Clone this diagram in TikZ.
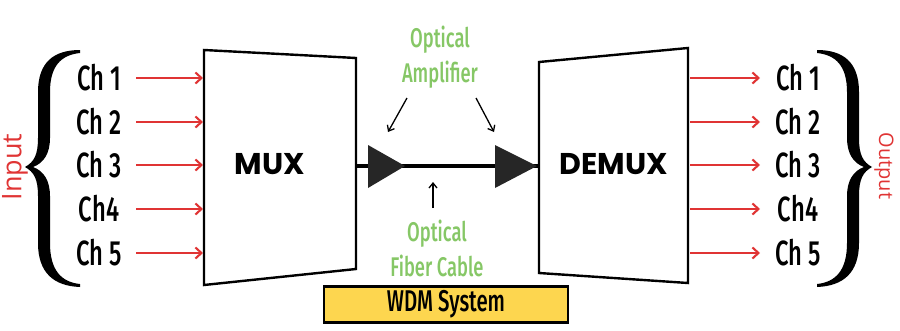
\documentclass[tikz,border=0pt]{standalone}
\usepackage{fontspec}
\setmainfont{Fira Sans Medium}[FakeStretch=0.68]
\newfontfamily\boldfnt{Poppins Bold}
\newfontfamily\plainfnt{Open Sans}
\usetikzlibrary{arrows.meta}
\definecolor{myred}{HTML}{E03434}
\definecolor{mygreen}{HTML}{86C766}
\definecolor{myyellow}{HTML}{FDD64F}
\tikzset{
  chlabel/.style={font=\fontsize{35}{35}\selectfont, text=black, inner sep=0pt},
  redarrow/.style={draw=myred, line width=2.1pt, -{Straight Barb[length=6pt,width=11pt,line width=2.1pt]}},
  greentext/.style={font=\fontsize{27}{35}\selectfont, text=mygreen, align=center, inner sep=0pt},
  blackarrow/.style={draw=black, line width=1.3pt, -{Straight Barb[length=5pt,width=8pt,line width=1.3pt]}},
  boxtitle/.style={font=\boldfnt\fontsize{30}{30}\selectfont, inner sep=0pt},
  trap/.style={draw=black, line width=2.4pt, fill=white, line join=miter},
  amp/.style={fill=black!85, draw=none},
  bigbrace/.pic={
    \fill[black] (80,50) .. controls (54,50) and (38,62) .. (38,92) -- (38,138)
      .. controls (38,155) and (34,162) .. (25,167)
      .. controls (34,172) and (38,179) .. (38,196) -- (38,243)
      .. controls (38,273) and (54,286) .. (80,287) -- (80,284)
      .. controls (61,282) and (50,270) .. (50,243) -- (50,196)
      .. controls (50,181) and (44,171) .. (33,167)
      .. controls (44,163) and (50,153) .. (50,138) -- (50,92)
      .. controls (50,66) and (61,55) .. (80,53) -- cycle;
  }
}
\begin{document}
\begin{tikzpicture}[x=1pt,y=-1pt]
\useasboundingbox (0,0) rectangle (900,330);
% fiber line
\coordinate (muxout) at (356,166);
\coordinate (demuxin) at (539,166);
\draw[line width=4pt] (muxout) -- (demuxin);
% amplifiers
\fill[amp] (368,145) -- (405,166) -- (368,188) -- cycle;
\fill[amp] (495,145) -- (537,166) -- (495,188) -- cycle;
\coordinate (amp1) at (388,132);
\coordinate (amp2) at (494,132);
% MUX and DEMUX
\draw[trap] (204,50) -- (356,58) -- (356,269) -- (204,285) -- cycle;
\draw[trap] (539,62) -- (688,48) -- (688,283) -- (539,273) -- cycle;
\node[boxtitle] (mux) at (270,164) {MUX};
\node[boxtitle] (demux) at (614,164) {DEMUX};
% input channels
\foreach \i/\t/\y in {1/Ch 1/78, 2/Ch 2/122, 3/Ch 3/165, 4/Ch4/209, 5/Ch 5/253}{
  \node[chlabel] (in\i) at (99,\y) {\t};
  \coordinate (mi\i) at (203,\y);
  \draw[redarrow] (136,\y) -- (mi\i);
  \node[chlabel] (out\i) at (798,\y) {\t};
  \coordinate (do\i) at (690,\y);
  \draw[redarrow] (do\i) -- (760,\y);
}
% braces
\pic at (0,0) {bigbrace};
\pic[xscale=-1] at (897,0) {bigbrace};
\node[font=\plainfnt\fontsize{27}{27}\selectfont, text=myred, rotate=90, inner sep=0pt] (input) at (15,167) {Input};
\node[font=\plainfnt\fontsize{20}{20}\selectfont, text=myred, rotate=-90, inner sep=0pt] (output) at (884,166) {Output};
% green labels
\node[greentext] (oa) at (440,57) {Optical\\Amplifier};
\node[greentext] (ofc) at (437,248) {Optical\\Fiber Cable};
\draw[blackarrow] (407,98) -- (amp1);
\draw[blackarrow] (476,98) -- (amp2);
\coordinate (fib) at (433,182);
\draw[blackarrow] (433,208) -- (fib);
% WDM box
\node[draw=black, line width=2.4pt, fill=myyellow, minimum width=244pt, minimum height=36pt, inner sep=0pt, font=\fontsize{30}{30}\selectfont] (wdm) at (446,304.5) {WDM System};
\end{tikzpicture}
\end{document}
